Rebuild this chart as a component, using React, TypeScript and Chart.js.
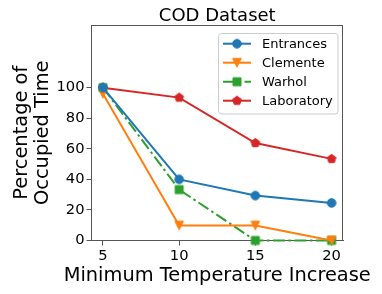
import React, { useEffect, useRef } from 'react';
import { Chart, registerables } from 'chart.js';

Chart.register(...registerables);

const categories = [5, 10, 15, 20];
const entrances = [100, 40, 29.4, 24.6];
const clemente = [96, 9.8, 9.8, 0];
const warhol = [100, 33.3, 0, 0];
const laboratory = [100, 93.5, 63.8, 53.4];
const yTicks = [0, 20, 40, 60, 80, 100];
const seriesNames = ['Entrances', 'Clemente', 'Warhol', 'Laboratory'];
const seriesColors = ['#1f77b4', '#ff7f0e', '#2ca02c', '#d62728'];
const seriesShapes = ['circle', 'triangleDown', 'square', 'pentagon'];
const titleText = 'COD Dataset';
const xTitle = 'Minimum Temperature Increase';
const yTitle = ['Percentage of', 'Occupied Time'];

const FONT = "'DejaVu Sans', sans-serif";
const SPINE = '#555555';

function makeMarker(shape: string, color: string): HTMLCanvasElement {
  const s = 14;
  const c = document.createElement('canvas');
  c.width = s;
  c.height = s;
  const ctx = c.getContext('2d')!;
  ctx.fillStyle = color;
  ctx.strokeStyle = color;
  ctx.lineWidth = 1;
  const cx = 7, cy = 7;
  ctx.beginPath();
  if (shape === 'circle') {
    ctx.arc(cx, cy, 4.3, 0, Math.PI * 2);
  } else if (shape === 'triangleDown') {
    const r = 4.3;
    ctx.moveTo(cx - r, cy - r);
    ctx.lineTo(cx + r, cy - r);
    ctx.lineTo(cx, cy + r);
  } else if (shape === 'square') {
    ctx.rect(cx - 4, cy - 4, 8, 8);
  } else {
    const r = 4.6;
    for (let i = 0; i < 5; i++) {
      const a = -Math.PI / 2 + (i * 2 * Math.PI) / 5;
      const px = cx + r * Math.cos(a);
      const py = cy + r * Math.sin(a);
      if (i === 0) ctx.moveTo(px, py);
      else ctx.lineTo(px, py);
    }
  }
  ctx.closePath();
  ctx.fill();
  ctx.stroke();
  return c;
}

export default function App() {
  const ref = useRef<HTMLCanvasElement | null>(null);

  useEffect(() => {
    if (!ref.current) return;
    const markers = seriesShapes.map((sh, i) => makeMarker(sh, seriesColors[i]));
    const values = [entrances, clemente, warhol, laboratory];
    const dashes = [[], [], [12, 3.5, 2.5, 3.5], []];

    const overlay = {
      id: 'overlay',
      afterDraw(chart: any) {
        const ctx = chart.ctx as CanvasRenderingContext2D;
        const a = chart.chartArea;
        ctx.save();
        // top/right spines
        ctx.strokeStyle = SPINE;
        ctx.lineWidth = 1;
        ctx.beginPath();
        ctx.moveTo(a.left, a.top + 0.5);
        ctx.lineTo(a.right, a.top + 0.5);
        ctx.moveTo(a.right - 0.5, a.top);
        ctx.lineTo(a.right - 0.5, a.bottom);
        ctx.stroke();

        // title
        ctx.fillStyle = '#000';
        ctx.textAlign = 'center';
        ctx.textBaseline = 'alphabetic';
        ctx.font = `18px ${FONT}`;
        const cx = (a.left + a.right) / 2;
        ctx.fillText(titleText, cx, 21);

        // x title
        ctx.font = `19.4px ${FONT}`;
        ctx.fillText(xTitle, cx, 281);

        // y title
        const cy = (a.top + a.bottom) / 2;
        const baselines = [26.5, 48];
        yTitle.forEach((t, i) => {
          ctx.save();
          ctx.translate(baselines[i], cy);
          ctx.rotate(-Math.PI / 2);
          ctx.fillText(t, 0, 0);
          ctx.restore();
        });

        // legend
        const lx = 218.5, ly = 33.5, lw = 119.5, lh = 80.5;
        ctx.beginPath();
        (ctx as any).roundRect(lx, ly, lw, lh, 3);
        ctx.fillStyle = 'rgba(255,255,255,0.8)';
        ctx.fill();
        ctx.strokeStyle = '#cccccc';
        ctx.lineWidth = 1;
        ctx.stroke();
        ctx.font = `13px ${FONT}`;
        ctx.textAlign = 'left';
        ctx.textBaseline = 'middle';
        seriesNames.forEach((name, i) => {
          const y = 43.7 + i * 19;
          ctx.strokeStyle = seriesColors[i];
          ctx.lineWidth = 2;
          ctx.setLineDash(dashes[i]);
          ctx.beginPath();
          ctx.moveTo(223, y);
          ctx.lineTo(251, y);
          ctx.stroke();
          ctx.setLineDash([]);
          const m = markers[i];
          ctx.drawImage(m, 237 - m.width / 2, y - m.height / 2);
          ctx.fillStyle = '#000';
          ctx.fillText(name, 262, y + 0.5);
        });
        ctx.restore();
      },
    };

    const tickFont = { family: FONT, size: 14.7 };

    const chart = new Chart(ref.current, {
      type: 'line',
      data: {
        datasets: seriesNames.map((name, i) => ({
          label: name,
          data: categories.map((x, j) => ({ x, y: values[i][j] })),
          borderColor: seriesColors[i],
          backgroundColor: seriesColors[i],
          borderWidth: 2,
          borderDash: dashes[i],
          pointStyle: markers[i],
          pointRadius: 5,
          tension: 0,
          clip: false,
          fill: false,
        })),
      },
      options: {
        animation: false,
        responsive: false,
        events: [],
        layout: { padding: { top: 25, right: 39, left: 0, bottom: 0 } },
        plugins: {
          legend: { display: false },
          title: { display: false },
          tooltip: { enabled: false },
        },
        scales: {
          x: {
            type: 'linear',
            min: 4.25,
            max: 20.75,
            afterBuildTicks: (s: any) => {
              s.ticks = categories.map((v) => ({ value: v }));
            },
            afterFit: (s: any) => {
              s.height = 53.5;
            },
            ticks: { font: tickFont, color: '#000', padding: 2, maxRotation: 0, autoSkip: false },
            grid: { drawOnChartArea: false, drawTicks: true, tickLength: 5, color: SPINE },
            border: { color: SPINE, width: 1 },
          },
          y: {
            type: 'linear',
            min: 0,
            max: 141,
            afterBuildTicks: (s: any) => {
              s.ticks = yTicks.map((v) => ({ value: v }));
            },
            afterFit: (s: any) => {
              s.width = 91.5;
            },
            ticks: { font: tickFont, color: '#000', padding: 2, autoSkip: false },
            grid: { drawOnChartArea: false, drawTicks: true, tickLength: 5, color: SPINE },
            border: { color: SPINE, width: 1 },
          },
        },
      },
      plugins: [overlay],
    } as any);

    return () => chart.destroy();
  }, []);

  return (
    <div style={{ position: 'absolute', left: 0, top: 0, width: 382, height: 294, background: '#fff' }}>
      <canvas ref={ref} width={382} height={294} />
    </div>
  );
}
